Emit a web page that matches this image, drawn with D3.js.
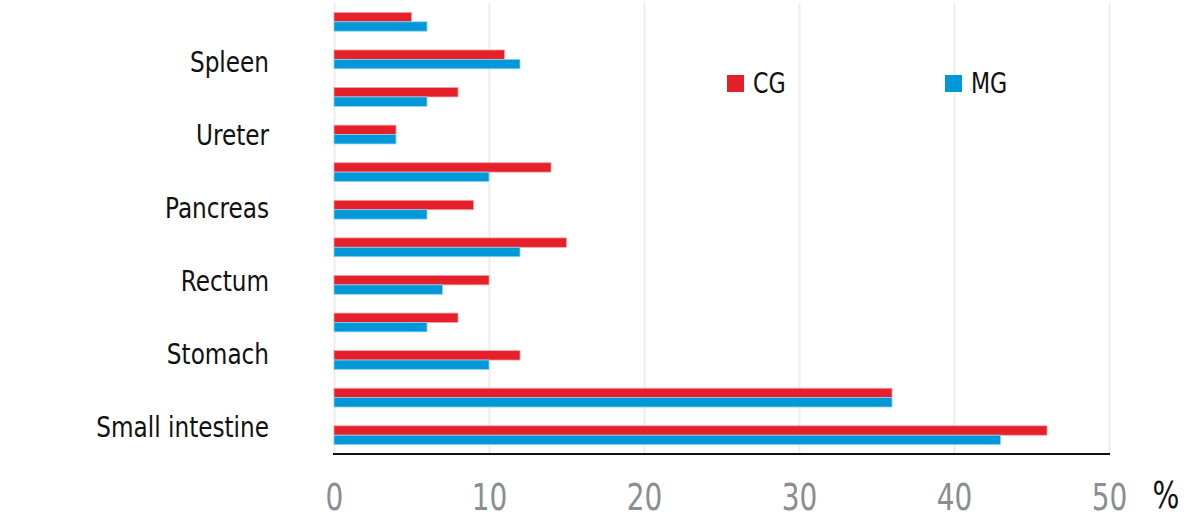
<!DOCTYPE html>
<html>
<head>
<meta charset="utf-8">
<script src="https://cdn.jsdelivr.net/npm/d3@7"></script>
<style>
  html, body { margin: 0; padding: 0; background: #fff; }
  svg { display: block; }
  text { font-family: "Liberation Sans Narrow", "DejaVu Sans Condensed", "Arial Narrow", sans-serif; font-stretch: condensed; }
</style>
</head>
<body>
<svg id="chart" width="1199" height="524"></svg>
<script>
// Categories listed top to bottom; unlabeled rows in the reference are blank
const categories = ["", "Spleen", "", "Ureter", "", "Pancreas", "", "Rectum", "", "Stomach", "", "Small intestine"];
const seriesNames = ["CG", "MG"];
const cgValues = [5, 11, 8, 4, 14, 9, 15, 10, 8, 12, 36, 46];
const mgValues = [6, 12, 6, 4, 10, 6, 12, 7, 6, 10, 36, 43];
const xTicks = [0, 10, 20, 30, 40, 50];
const unitLabel = "%";

const colors = { CG: "#e5202a", MG: "#0098d8" };
const strokes = { CG: "#f2a0a4", MG: "#8fd0ee" };

const svg = d3.select("#chart");
const pLeft = 334, pRight = 1109, pTop = 3, pBottom = 454;

const x = d3.scaleLinear().domain([0, 50]).range([pLeft, pRight]);
const y = d3.scaleBand().domain(d3.range(categories.length)).range([pTop, pBottom]).paddingInner(0).paddingOuter(0);
const bw = y.bandwidth();
const ySub = d3.scaleBand().domain(seriesNames).range([bw * 0.25, bw * 0.75]);

// gridlines + x axis
const xAxis = d3.axisBottom(x).tickValues(xTicks).tickSize(-(pBottom - pTop)).tickFormat(d3.format("d"));
const gx = svg.append("g").attr("transform", `translate(0,${pBottom})`).call(xAxis);
gx.select(".domain").remove();
gx.selectAll(".tick line").attr("stroke", "#ededed").attr("stroke-width", 2);
gx.selectAll(".tick text")
  .attr("fill", "#8a8d91")
  .attr("font-size", 37)
  .attr("y", 56)
  .attr("dy", 0)
  .attr("transform", "scale(0.84,1)")
  .style("font-family", null);

// bars
const data = categories.map((c, i) => ({ i, CG: cgValues[i], MG: mgValues[i] }));
const groups = svg.append("g").selectAll("g").data(data).join("g")
  .attr("transform", d => `translate(0,${y(d.i)})`);
groups.selectAll("rect").data(d => seriesNames.map(s => ({ s, v: d[s] }))).join("rect")
  .attr("x", x(0))
  .attr("y", d => ySub(d.s))
  .attr("width", d => x(d.v) - x(0))
  .attr("height", ySub.bandwidth())
  .attr("fill", d => colors[d.s])
  .attr("stroke", d => strokes[d.s])
  .attr("stroke-width", 0.8);

// bottom axis line
svg.append("line")
  .attr("x1", x(0) - 1).attr("x2", x(50) + 1)
  .attr("y1", pBottom).attr("y2", pBottom)
  .attr("stroke", "#111").attr("stroke-width", 2.2);

// y labels (only every other category is labelled; labels evenly spaced)
const labelled = categories.filter(c => c !== "");
const yLab = d3.scalePoint().domain(labelled).range([61, 426]);
const yAxis = d3.axisLeft(yLab).tickSize(0).tickPadding(0);
const gy = svg.append("g").attr("transform", `translate(269,0)`).call(yAxis);
gy.select(".domain").remove();
gy.selectAll(".tick text")
  .attr("fill", "#111")
  .attr("font-size", 28)
  .attr("x", 0)
  .attr("dy", "0.36em")
  .attr("transform", "scale(0.92,1)")
  .style("font-family", null);

// unit label
svg.append("text")
  .attr("transform", "translate(1166,508) scale(0.85,1)")
  .attr("text-anchor", "middle")
  .attr("font-size", 37)
  .attr("fill", "#111")
  .text(unitLabel);

// legend
const legendPos = { CG: 727, MG: 945 };
seriesNames.forEach(s => {
  const lx = legendPos[s];
  svg.append("rect").attr("x", lx).attr("y", 75).attr("width", 17).attr("height", 17)
    .attr("fill", colors[s]);
  svg.append("text").attr("transform", `translate(${lx + 26},93) scale(0.88,1)`)
    .attr("font-size", 28).attr("fill", "#111").text(s);
});
</script>
</body>
</html>
